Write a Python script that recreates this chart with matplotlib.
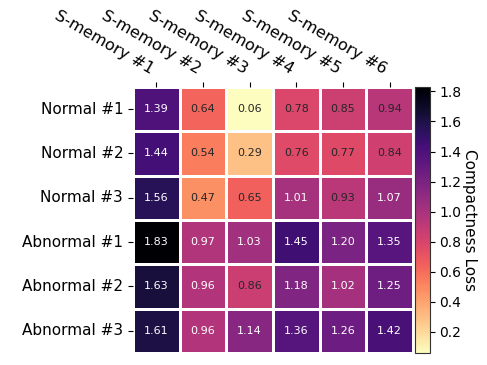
import matplotlib
matplotlib.use("Agg")
import matplotlib.pyplot as plt
import numpy as np
import pandas as pd
import seaborn as sns

memories = ["S-memory #1", "S-memory #2", "S-memory #3",
            "S-memory #4", "S-memory #5", "S-memory #6"]
samples = ["Normal #1", "Normal #2", "Normal #3",
           "Abnormal #1", "Abnormal #2", "Abnormal #3"]

normal_1 = [1.39, 0.64, 0.06, 0.78, 0.85, 0.94]
normal_2 = [1.44, 0.54, 0.29, 0.76, 0.77, 0.84]
normal_3 = [1.56, 0.47, 0.65, 1.01, 0.93, 1.07]
abnormal_1 = [1.83, 0.97, 1.03, 1.45, 1.20, 1.35]
abnormal_2 = [1.63, 0.96, 0.86, 1.18, 1.02, 1.25]
abnormal_3 = [1.61, 0.96, 1.14, 1.36, 1.26, 1.42]

df = pd.DataFrame([normal_1, normal_2, normal_3, abnormal_1, abnormal_2, abnormal_3],
                  index=samples, columns=memories)

fig = plt.figure(figsize=(4.87, 3.65), dpi=100)
ax = fig.add_axes([0.273, 0.033, 0.575, 0.729])
cax = fig.add_axes([0.853, 0.033, 0.029, 0.729])

sns.heatmap(df, ax=ax, cbar_ax=cax, cmap="magma_r", annot=True, fmt=".2f",
            annot_kws={"fontsize": 8}, linewidths=2, linecolor="white")

# text colour: dark on the light cells, white on the dark ones
for txt in ax.texts:
    v = float(txt.get_text())
    txt.set_color("#262626" if v < 0.95 else "white")

ax.xaxis.tick_top()
ax.set_xticklabels(memories, rotation=-30, ha="right", fontsize=11.5)
ax.set_yticklabels(samples, rotation=0, fontsize=11)
ax.set_xlabel("")
ax.set_ylabel("")

cb = ax.collections[0].colorbar
cb.outline.set_linewidth(0.8)
cb.outline.set_edgecolor("#333333")
cax.tick_params(labelsize=10)
cax.set_ylabel("Compactness Loss", rotation=270, labelpad=11, fontsize=11)

fig.savefig("out.png", dpi=100)
